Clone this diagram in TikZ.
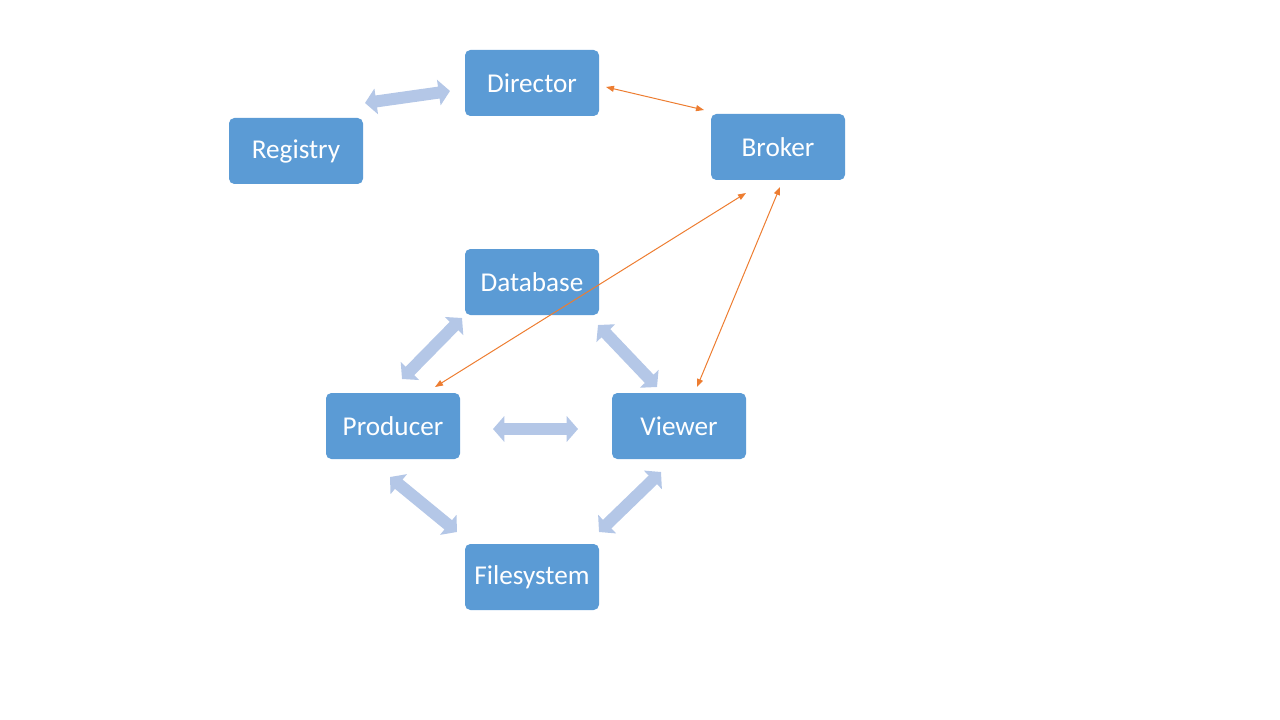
\documentclass[tikz,border=0pt]{standalone}
\usepackage{fontspec}
\setmainfont{Carlito}
\usetikzlibrary{arrows.meta}
\definecolor{boxblue}{HTML}{5B9BD5}
\definecolor{pipeblue}{HTML}{B4C7E7}
\definecolor{msgorange}{HTML}{ED7D31}
\tikzset{compbox/.style={rectangle,rounded corners=4pt,fill=boxblue,text=white,
    minimum width=100.5pt,minimum height=49.5pt,inner sep=0pt,outer sep=0pt,
    font=\fontsize{20.4}{24}\selectfont},
  pipe/.style={draw=pipeblue,line width=9pt,
    {Triangle[width=19pt,length=8.5pt]}-{Triangle[width=19pt,length=8.5pt]}},
  msg/.style={draw=msgorange,line width=0.75pt,
    {Triangle[width=4.5pt,length=6pt]}-{Triangle[width=4.5pt,length=6pt]}}}

\begin{document}
\begin{tikzpicture}[x=0.75pt, y=-0.75pt]
    \useasboundingbox (0,0) rectangle (1280,720);

    \node[compbox] (director) at (532,83) {Director};
    \node[compbox] (registry) at (296,151) {Registry};
    \node[compbox] (broker) at (778,147) {Broker};
    \node[compbox] (database) at (532,282) {Database};
    \node[compbox] (producer) at (393,426) {Producer};
    \node[compbox] (viewer) at (679,426) {Viewer};
    \node[compbox] (filesystem) at (532,577) {Filesystem};

    \draw[pipe] ([shift={(2,-15)}]registry.north east) -- ([shift={(-15,8)}]director.west);
    \draw[pipe] ([shift={(-3,3)}]database.south west) -- ([shift={(9,-14)}]producer.north);
    \draw[pipe] ([shift={(-1,10)}]database.south east) -- ([shift={(-22,-6)}]viewer.north);
    \draw[pipe] ([shift={(33,3)}]producer.east) -- ([shift={(-34,3)}]viewer.west);
    \draw[pipe] ([shift={(-3,18)}]producer.south) -- ([shift={(-8,-12)}]filesystem.north west);
    \draw[pipe] ([shift={(-18,13)}]viewer.south) -- ([shift={(0,-12)}]filesystem.north east);

    \draw[msg] ([shift={(7,4)}]director.east) -- ([shift={(-7,-4)}]broker.north west);
    \draw[msg] ([shift={(-32,13)}]broker.south) -- ([shift={(42,-6)}]producer.north);
    \draw[msg] ([shift={(2,7)}]broker.south) -- ([shift={(18,-6)}]viewer.north);
\end{tikzpicture}
\end{document}
